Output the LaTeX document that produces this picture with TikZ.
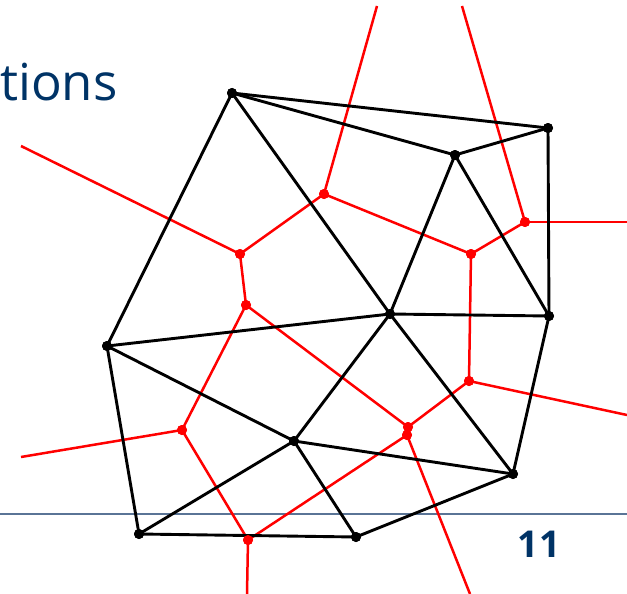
\documentclass[tikz,border=0pt]{standalone}
\usepackage{fontspec}
\setmainfont{Open Sans}
\definecolor{navy}{HTML}{003366}
\definecolor{rulegray}{HTML}{5A7496}
\begin{document}
\begin{tikzpicture}[x=1pt,y=-1pt,
  dedge/.style={black,line width=2.9pt},
  vedge/.style={red,line width=2.5pt},
  dpt/.style={circle,fill=black,inner sep=0pt,minimum size=10pt},
  vpt/.style={circle,fill=red,inner sep=0pt,minimum size=10pt},
  lbl/.style={text=navy,inner sep=0pt}]
\useasboundingbox (0,0) rectangle (627,594);
% slide rule and texts
\coordinate (rl) at (0,514);
\coordinate (rr) at (627,514);
\draw[rulegray,line width=1.6pt] (rl) -- (rr);
\node[lbl,anchor=base west,font=\fontsize{51}{60}\selectfont] (title) at (0,101) {tions};
\node[lbl,anchor=base,font=\fontsize{37}{44}\selectfont\bfseries] (pnum) at (539,557) {11};
% Delaunay vertices
\node[dpt] (A) at (232,93) {};
\node[dpt] (B) at (548,128) {};
\node[dpt] (C) at (455,155) {};
\node[dpt] (D) at (390,314) {};
\node[dpt] (E) at (549,316) {};
\node[dpt] (F) at (107,346) {};
\node[dpt] (G) at (294,441) {};
\node[dpt] (H) at (513,474) {};
\node[dpt] (I) at (139,534) {};
\node[dpt] (J) at (356,537) {};
% Voronoi vertices
\node[vpt] (r1) at (324,194) {};
\node[vpt] (r2) at (240,254) {};
\node[vpt] (r3) at (246,305) {};
\node[vpt] (r4) at (471,254) {};
\node[vpt] (r5) at (525,222) {};
\node[vpt] (r6) at (469,381) {};
\node[vpt] (r7) at (408,427) {};
\node[vpt] (r8) at (407,435) {};
\node[vpt] (r9) at (182,430) {};
\node[vpt] (r10) at (248,540) {};
% free ends of Voronoi rays
\coordinate (t1) at (377,6);
\coordinate (t2) at (462,6);
\coordinate (e1) at (627,222);
\coordinate (e2) at (627,415);
\coordinate (w1) at (21,146);
\coordinate (w2) at (21,457);
\coordinate (b1) at (470,594);
\coordinate (b2) at (247,594);
% Voronoi edges
\draw[vedge] (r1.center) -- (t1);
\draw[vedge] (r5.center) -- (t2);
\draw[vedge] (r5.center) -- (e1);
\draw[vedge] (r6.center) -- (e2);
\draw[vedge] (r2.center) -- (w1);
\draw[vedge] (r9.center) -- (w2);
\draw[vedge] (r8.center) -- (b1);
\draw[vedge] (r10.center) -- (b2);
\draw[vedge] (r1.center) -- (r2.center);
\draw[vedge] (r1.center) -- (r4.center);
\draw[vedge] (r2.center) -- (r3.center);
\draw[vedge] (r3.center) -- (r9.center);
\draw[vedge] (r3.center) -- (r7.center);
\draw[vedge] (r4.center) -- (r5.center);
\draw[vedge] (r4.center) -- (r6.center);
\draw[vedge] (r6.center) -- (r7.center);
\draw[vedge] (r7.center) -- (r8.center);
\draw[vedge] (r8.center) -- (r10.center);
\draw[vedge] (r9.center) -- (r10.center);
% Delaunay edges
\foreach \p/\q in {A/B,A/C,C/B,A/F,A/D,C/D,C/E,B/E,F/D,D/E,F/G,F/I,D/G,D/H,E/H,G/H,G/I,G/J,I/J,J/H}
  \draw[dedge] (\p.center) -- (\q.center);
% redraw dots on top
\foreach \n in {A,B,C,D,E,F,G,H,I,J}
  \fill (\n.center) circle (5pt);
\foreach \n in {r1,r2,r3,r4,r5,r6,r7,r8,r9,r10}
  \fill[red] (\n.center) circle (5pt);
\end{tikzpicture}
\end{document}
